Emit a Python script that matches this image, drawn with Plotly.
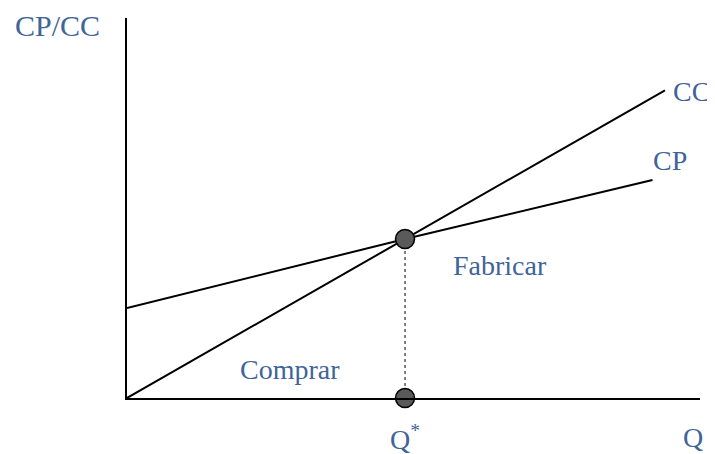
import plotly.graph_objects as go

# Make-or-buy break-even chart (arbitrary units)
q_cc = [0, 10, 19.35]
cc_vals = [0, 5.72, 11.07]
q_cp = [0, 10, 18.9]
cp_vals = [3.24, 5.72, 7.84]
q_star = 10
cost_star = 5.72

x_max = 20.61
y_max = 13.67

TEXT = "#3F6598"
FONT = "Liberation Serif"

fig = go.Figure()

fig.add_trace(go.Scatter(x=q_cp, y=cp_vals, mode="lines",
                         line=dict(color="black", width=2), hoverinfo="skip"))
fig.add_trace(go.Scatter(x=q_cc, y=cc_vals, mode="lines",
                         line=dict(color="black", width=2), hoverinfo="skip"))
# dotted drop line from the break-even point
fig.add_trace(go.Scatter(x=[q_star, q_star], y=[0, cost_star], mode="lines",
                         line=dict(color="black", width=1, dash="dot"), hoverinfo="skip"))
fig.add_trace(go.Scatter(x=[q_star, q_star], y=[cost_star, 0], mode="markers",
                         marker=dict(size=19, color="#5a5a5a",
                                     line=dict(color="black", width=1.5)),
                         cliponaxis=False, hoverinfo="skip"))

# labels inside the plot (data coords)
labels = [
    ("CC", 20.3, 11.04),
    ("CP", 19.53, 8.56),
    ("Fabricar", 13.42, 4.78),
    ("Comprar", 5.86, 1.01),
]
for txt, x, y in labels:
    fig.add_annotation(x=x, y=y, xref="x", yref="y", text=txt, showarrow=False,
                       xanchor="center", yanchor="middle",
                       font=dict(family=FONT, size=28, color=TEXT))

# labels outside the plot (paper coords)
outside = [
    ("CP/CC", -0.122, 0.98, 30),
    ("Q<sup>*</sup>", q_star / x_max, -0.103, 28),
    ("Q", 0.988, -0.103, 28),
]
for txt, x, y, size in outside:
    fig.add_annotation(x=x, y=y, xref="paper", yref="paper", text=txt, showarrow=False,
                       xanchor="center", yanchor="middle",
                       font=dict(family=FONT, size=size, color=TEXT))

fig.update_xaxes(range=[0, x_max], showgrid=False, zeroline=False, showticklabels=False,
                 ticks="", showline=True, linecolor="black", linewidth=2)
fig.update_yaxes(range=[0, y_max], showgrid=False, zeroline=False, showticklabels=False,
                 ticks="", showline=True, linecolor="black", linewidth=2)

# page body has an 8px margin, so the figure is shrunk and shifted to compensate
fig.update_layout(
    width=707, height=446,
    margin=dict(l=119, r=15, t=10, b=56),
    plot_bgcolor="white", paper_bgcolor="white",
    showlegend=False,
)

fig.write_html("out.html")
